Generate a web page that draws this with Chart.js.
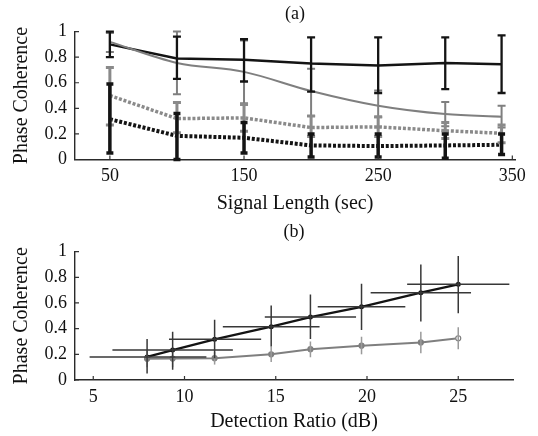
<!DOCTYPE html>
<html>
<head>
<meta charset="utf-8">
<script src="https://cdn.jsdelivr.net/npm/chart.js@4.4.0/dist/chart.umd.min.js"></script>
<style>
  html, body { margin: 0; padding: 0; background: #fff; }
  .panel { position: relative; width: 538px; height: 218px; }
</style>
</head>
<body>
<div class="panel"><canvas id="chartA"></canvas></div>
<div class="panel"><canvas id="chartB"></canvas></div>
<script>
/*global Chart*/

// (a) phase coherence vs signal length
var signalLength = [50, 100, 150, 200, 250, 300, 342];
var xTicksA = [50, 150, 250, 350];

var darkSolid   = [0.90, 0.79, 0.78, 0.75, 0.735, 0.755, 0.745];
var darkSolidLo = [0.80, 0.63, 0.61, 0.53, 0.52, 0.55, 0.52];
var darkSolidHi = [1.00, 0.96, 0.94, 0.955, 0.955, 0.955, 0.97];

var graySolid   = [0.92, 0.755, 0.685, 0.535, 0.42, 0.355, 0.335];
var graySolidLo = [0.84, 0.51, 0.44, 0.34, 0.33, 0.26, 0.25];
var graySolidHi = [0.99, 1.00, 0.93, 0.71, 0.54, 0.45, 0.42];

var grayDot   = [0.50, 0.32, 0.325, 0.25, 0.255, 0.225, 0.205];
var grayDotLo = [0.27, 0.21, 0.22, 0.18, 0.18, 0.165, 0.13];
var grayDotHi = [0.72, 0.445, 0.43, 0.34, 0.335, 0.29, 0.27];

var darkDot   = [0.315, 0.185, 0.17, 0.11, 0.105, 0.11, 0.115];
var darkDotLo = [0.05, 0.0, 0.05, 0.02, 0.02, 0.01, 0.04];
var darkDotHi = [0.59, 0.36, 0.29, 0.20, 0.20, 0.20, 0.20];

// (b) phase coherence vs detection ratio
var detectionRatio = [7.95, 9.35, 11.65, 14.75, 16.9, 19.7, 22.95, 25.0];
var xTicksB = [5, 10, 15, 20, 25];

var ratioDark   = [0.18, 0.233, 0.317, 0.415, 0.49, 0.57, 0.68, 0.745];
var ratioDarkLo = [0.05, 0.08, 0.17, 0.26, 0.32, 0.39, 0.455, 0.52];
var ratioDarkHi = [0.32, 0.375, 0.47, 0.58, 0.665, 0.75, 0.90, 0.965];
var ratioXLo    = [4.8, 6.05, 9.15, 12.1, 14.4, 17.3, 20.2, 22.2];
var ratioXHi    = [11.2, 12.65, 14.2, 17.4, 19.4, 22.1, 25.7, 27.8];

var ratioGray   = [0.165, 0.167, 0.17, 0.20, 0.24, 0.267, 0.293, 0.325];
var ratioGrayLo = [0.10, 0.10, 0.12, 0.14, 0.177, 0.20, 0.208, 0.24];
var ratioGrayHi = [0.23, 0.22, 0.22, 0.26, 0.30, 0.337, 0.376, 0.41];

var yTicks = [0, 0.2, 0.4, 0.6, 0.8, 1];

Chart.defaults.font.family = "'Liberation Serif', 'Times New Roman', serif";
Chart.defaults.color = '#111';

function points(xs, ys) {
    return xs.map(function (x, i) { return {x: x, y: ys[i]}; });
}

// error bars + inward tick marks, drawn through the chart's scales
function errorBarPlugin(specs) {
    return {
        id: 'errorBars',
        afterDatasetsDraw: function (chart) {
            var ctx = chart.ctx, xs = chart.scales.x, ys = chart.scales.y;
            ctx.save();
            specs.forEach(function (s) {
                ctx.strokeStyle = s.color;
                ctx.lineWidth = s.width;
                ctx.lineCap = 'butt';
                s.x.forEach(function (xv, i) {
                    var px = xs.getPixelForValue(xv), py = ys.getPixelForValue(s.y[i]);
                    ctx.beginPath();
                    if (s.lo) {
                        var y0 = ys.getPixelForValue(s.lo[i]), y1 = ys.getPixelForValue(s.hi[i]);
                        ctx.moveTo(px, y0); ctx.lineTo(px, y1);
                        if (s.cap) {
                            ctx.moveTo(px - s.cap, y0); ctx.lineTo(px + s.cap, y0);
                            ctx.moveTo(px - s.cap, y1); ctx.lineTo(px + s.cap, y1);
                        }
                    }
                    if (s.xlo) {
                        ctx.moveTo(xs.getPixelForValue(s.xlo[i]), py);
                        ctx.lineTo(xs.getPixelForValue(s.xhi[i]), py);
                    }
                    ctx.stroke();
                });
            });
            // small ticks pointing into the plot
            ctx.strokeStyle = '#333';
            ctx.lineWidth = 1.2;
            ctx.beginPath();
            xs.ticks.forEach(function (t) {
                var px = xs.getPixelForValue(t.value);
                ctx.moveTo(px, ys.bottom); ctx.lineTo(px, ys.bottom - 4);
            });
            ys.ticks.forEach(function (t) {
                var py = ys.getPixelForValue(t.value);
                ctx.moveTo(xs.left, py); ctx.lineTo(xs.left + 4, py);
            });
            ctx.stroke();
            ctx.restore();
        }
    };
}

function makeOptions(title, xTitle, xMin, xMax, xTicks, pad) {
    return {
        responsive: true,
        maintainAspectRatio: false,
        animation: false,
        devicePixelRatio: 1,
        layout: {padding: {left: 10, right: pad.right, top: 0, bottom: 0}},
        plugins: {
            legend: {display: false},
            tooltip: {enabled: false},
            title: {
                display: true, text: title, fullSize: false, color: '#111',
                font: {size: 18, weight: 'normal'},
                padding: {top: 3, bottom: pad.titleBottom}
            }
        },
        scales: {
            x: {
                type: 'linear', min: xMin, max: xMax,
                afterBuildTicks: function (s) { s.ticks = xTicks.map(function (v) { return {value: v}; }); },
                afterFit: function (s) { s.height = pad.xHeight; },
                grid: {display: false, drawTicks: false},
                border: {display: true, color: '#2a2a2a', width: 1.4},
                ticks: {font: {size: 18}, padding: 6, color: '#111', maxRotation: 0},
                title: {display: true, text: xTitle, font: {size: 20}, color: '#111', padding: {top: 0, bottom: 2}}
            },
            y: {
                min: 0, max: 1,
                afterBuildTicks: function (s) { s.ticks = yTicks.map(function (v) { return {value: v}; }); },
                afterFit: function (s) { s.width = 65; },
                grid: {display: false, drawTicks: false},
                border: {display: true, color: '#2a2a2a', width: 1.4},
                ticks: {font: {size: 18}, padding: 8, color: '#111',
                        callback: function (v) { return String(v); }},
                title: {display: true, text: 'Phase Coherence', font: {size: 20}, color: '#111', padding: {top: 0, bottom: 3}}
            }
        }
    };
}

var DARK = '#141414', GRAY = '#7f7f7f';

var dataA = {
    datasets: [
        {data: points(signalLength, graySolid), borderColor: GRAY, borderWidth: 2, cubicInterpolationMode: 'monotone', pointRadius: 0, fill: false},
        {data: points(signalLength, grayDot), borderColor: '#8a8a8a', borderWidth: 3.5, borderDash: [3, 1.8], pointRadius: 0, fill: false},
        {data: points(signalLength, darkDot), borderColor: DARK, borderWidth: 4, borderDash: [3, 1.8], pointRadius: 0, fill: false},
        {data: points(signalLength, darkSolid), borderColor: DARK, borderWidth: 2.5, pointRadius: 0, fill: false}
    ]
};

var barsA = [
    {x: signalLength, y: graySolid, lo: graySolidLo, hi: graySolidHi, color: GRAY, width: 2, cap: 4},
    {x: signalLength, y: grayDot, lo: grayDotLo, hi: grayDotHi, color: '#8a8a8a', width: 3, cap: 4},
    {x: signalLength, y: darkDot, lo: darkDotLo, hi: darkDotHi, color: DARK, width: 3.5, cap: 3.5},
    {x: signalLength, y: darkSolid, lo: darkSolidLo, hi: darkSolidHi, color: DARK, width: 2.3, cap: 4}
];

var ctxA = document.getElementById("chartA").getContext("2d");
new Chart(ctxA, {
    type: 'line', data: dataA,
    options: makeOptions('(a)', 'Signal Length (sec)', 24, 352, xTicksA, {right: 23, titleBottom: 7, xHeight: 58.5}),
    plugins: [errorBarPlugin(barsA)]
});

var grayPointFill = ratioGray.map(function (v, i) { return i === ratioGray.length - 1 ? '#fff' : GRAY; });

var dataB = {
    datasets: [
        {data: points(detectionRatio, ratioGray), borderColor: GRAY, borderWidth: 2, pointRadius: 2.5, pointBorderWidth: 1.2,
         pointBackgroundColor: grayPointFill, pointBorderColor: GRAY, fill: false},
        {data: points(detectionRatio, ratioDark), borderColor: DARK, borderWidth: 2.3, pointRadius: 2.5, pointBorderWidth: 0,
         pointBackgroundColor: DARK, fill: false}
    ]
};

var barsB = [
    {x: detectionRatio, y: ratioGray, lo: ratioGrayLo, hi: ratioGrayHi, color: '#9a9a9a', width: 1.5},
    {x: detectionRatio, y: ratioDark, lo: ratioDarkLo, hi: ratioDarkHi, xlo: ratioXLo, xhi: ratioXHi, color: '#383838', width: 1.5}
];

var ctxB = document.getElementById("chartB").getContext("2d");
new Chart(ctxB, {
    type: 'line', data: dataB,
    options: makeOptions('(b)', 'Detection Ratio (dB)', 4, 28, xTicksB, {right: 25, titleBottom: 9, xHeight: 56}),
    plugins: [errorBarPlugin(barsB)]
});
</script>
</body>
</html>
